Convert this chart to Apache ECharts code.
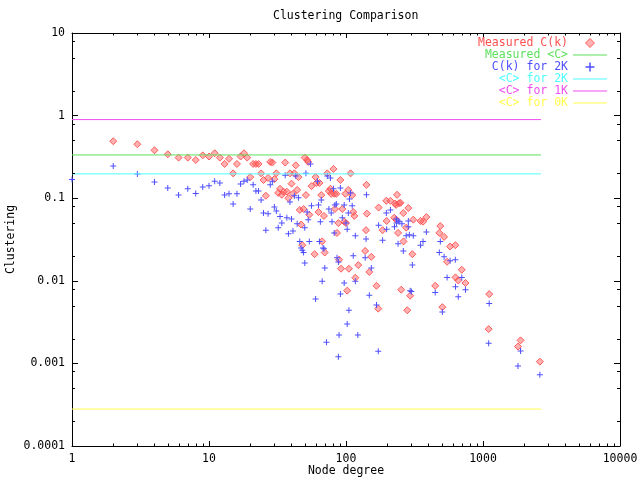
<!DOCTYPE html>
<html>
<head>
<meta charset="utf-8">
<script src="https://cdn.jsdelivr.net/npm/echarts@6/dist/echarts.min.js"></script>
<style>html,body{margin:0;padding:0;background:#fff}#c{width:640px;height:480px}</style>
</head>
<body>
<div id="c"></div>
<script>
// ---- data ----
const measuredCk = [
  [2,0.49],[3,0.45],[4,0.38],[5,0.34],[6,0.31],[7,0.31],[8,0.29],[9,0.33],[10,0.32],[11,0.35],
  [12,0.31],[13,0.26],[14,0.30],[15,0.20],[16,0.26],[17,0.32],[18,0.35],[19,0.31],[20,0.18],
  [21,0.26],[22,0.26],[23,0.26],[24,0.20],[25,0.166],[26,0.107],[27,0.176],[28,0.275],[29,0.27],
  [30,0.17],[31,0.20],[32,0.116],[33,0.13],[34,0.11],[35,0.12],[36,0.27],[37,0.12],[38,0.10],
  [39,0.20],[40,0.15],[41,0.113],[42,0.20],[43,0.25],[44,0.126],[45,0.18],[46,0.072],[47,0.048],
  [48,0.027],[49,0.074],[50,0.31],[51,0.109],[52,0.29],[53,0.275],[54,0.063],[56,0.14],[59,0.021],
  [60,0.18],[61,0.153],[63,0.068],[64,0.153],[66,0.109],[67,0.030],[69,0.061],[70,0.022],[73,0.20],
  [75,0.122],[77,0.13],[78,0.113],[81,0.226],[82,0.113],[83,0.074],[85,0.113],[86,0.038],[88,0.05],
  [89,0.018],[91,0.166],[92,0.014],[94,0.074],[97,0.052],[99,0.113],[100,0.05],[102,0.0076],
  [104,0.126],[105,0.014],[108,0.20],[111,0.109],[113,0.068],[115,0.061],[117,0.0109],[123,0.0155],
  [138,0.023],[140,0.041],[141,0.145],[142,0.065],[148,0.0128],[153,0.0195],[167,0.0087],[172,0.0046],
  [173,0.077],[185,0.041],[197,0.093],[198,0.053],[211,0.093],[225,0.058],[228,0.086],[232,0.083],
  [233,0.055],[236,0.11],[240,0.038],[244,0.087],[250,0.088],[253,0.0078],[262,0.066],[263,0.030],
  [275,0.044],[280,0.0044],[285,0.076],[294,0.0066],[305,0.021],[310,0.055],[350,0.053],[365,0.052],
  [386,0.059],[448,0.0087],[480,0.038],[488,0.046],[505,0.0048],[520,0.034],[547,0.017],[575,0.026],
  [628,0.027],[630,0.011],[660,0.0101],[700,0.0136],[745,0.0094],[1100,0.0026],[1110,0.0069],
  [1800,0.0016],[1880,0.0019],[2600,0.00105]
];
const ck2K = [
  [1,0.168],[2,0.246],[3,0.197],[4,0.157],[5,0.133],[6,0.109],[7,0.13],[8,0.114],[9,0.137],[10,0.141],
  [11,0.16],[12,0.153],[13,0.109],[14,0.113],[15,0.085],[16,0.113],[17,0.149],[18,0.16],[19,0.166],
  [20,0.074],[21,0.145],[22,0.122],[23,0.122],[24,0.095],[25,0.066],[26,0.041],[27,0.065],[28,0.145],
  [29,0.16],[30,0.078],[31,0.07],[32,0.044],[33,0.06],[34,0.05],[36,0.19],[37,0.058],[38,0.037],
  [39,0.09],[40,0.056],[41,0.04],[42,0.107],[43,0.186],[44,0.049],[45,0.101],[46,0.03],[47,0.025],
  [48,0.0235],[49,0.022],[50,0.044],[50,0.0164],[51,0.2],[52,0.068],[53,0.055],[54,0.03],[55,0.26],
  [56,0.081],[60,0.006],[62,0.16],[63,0.083],[64,0.03],[65,0.052],[66,0.095],[67,0.0099],[68,0.025],
  [69,0.0245],[70,0.0143],[72,0.0018],[73,0.186],[75,0.074],[77,0.176],[78,0.066],[79,0.052],[81,0.13],
  [82,0.038],[83,0.083],[85,0.085],[86,0.019],[88,0.0169],[88,0.0012],[89,0.0022],[91,0.133],[91,0.0069],
  [94,0.058],[97,0.083],[97,0.0094],[100,0.05],[102,0.042],[102,0.003],[104,0.066],[105,0.0044],
  [106,0.098],[108,0.116],[111,0.081],[113,0.0201],[117,0.035],[117,0.0099],[122,0.0022],[138,0.019],
  [140,0.032],[141,0.11],[148,0.0067],[153,0.0143],[167,0.0051],[172,0.0014],[173,0.047],[185,0.031],
  [197,0.066],[198,0.042],[211,0.072],[226,0.045],[233,0.056],[234,0.05],[240,0.028],[240,0.053],
  [244,0.052],[256,0.049],[262,0.023],[275,0.035],[285,0.053],[285,0.045],[290,0.036],[294,0.0076],
  [300,0.0074],[305,0.0155],[310,0.035],[350,0.027],[365,0.03],[386,0.039],[448,0.0072],[480,0.022],
  [488,0.03],[505,0.0042],[520,0.0195],[547,0.011],[575,0.0175],[628,0.018],[630,0.0085],[660,0.0064],
  [700,0.011],[745,0.0078],[1100,0.00175],[1110,0.0053],[1800,0.00093],[1880,0.00141],[2600,0.00073]
];
const lineDegrees = [1, 2650];
const measuredC = 0.334;
const c2K = 0.197;
const c1K = 0.895;
const c0K = 0.00028;
const xTickLabels = ['1','10','100','1000','10000'];
const yTickLabels = ['0.0001','0.001','0.01','0.1','1','10'];
const xMinorTicks = [2,3,4,5,6,7,8,9,20,30,40,50,60,70,80,90,200,300,400,500,600,700,800,900,2000,3000,4000,5000,6000,7000,8000,9000];
const yMinorTicks = [0.0002,0.0005,0.0008,0.002,0.005,0.008,0.02,0.05,0.08,0.2,0.5,0.8,2,5,8];
const X_MIN = 1, X_MAX = 10000, Y_MIN = 0.0001, Y_MAX = 10;

const COL = {red:'#ff4f4f', green:'#5fe05f', blue:'#4f4fff', cyan:'#4fffff', magenta:'#ef4fef', yellow:'#ffff4f'};
const FONT = 'DejaVu Sans Mono';
const FS = 11.5;
const LINE_ICON = 'path://M0,0H34V1H0Z';
const DIAMOND_ICON = 'path://M3.5,0L7,3.5L3.5,7L0,3.5Z';
const PLUS_ICON = 'path://M2.5,0H3.5V2.5H6V3.5H3.5V6H2.5V3.5H0V2.5H2.5Z';

const chart = echarts.init(document.getElementById('c'), null, {renderer:'canvas'});

function tickSeries(dim, values, len) {
  return {
    type:'custom', silent:true, z:10, clip:false,
    data: values.map(v => dim === 'x' ? [v, 1] : [1, v]),
    renderItem(params, api) {
      const style = {stroke:'#000', lineWidth:1};
      if (dim === 'x') {
        const v = api.value(0);
        const b = api.coord([v, Y_MIN]), t = api.coord([v, Y_MAX]);
        const x = Math.round(b[0]) + 0.5;
        return {type:'group', children:[
          {type:'line', shape:{x1:x, y1:b[1], x2:x, y2:b[1]-len}, style},
          {type:'line', shape:{x1:x, y1:t[1], x2:x, y2:t[1]+len}, style}
        ]};
      } else {
        const v = api.value(1);
        const l = api.coord([X_MIN, v]), r = api.coord([X_MAX, v]);
        const y = Math.round(l[1]) + 0.5;
        return {type:'group', children:[
          {type:'line', shape:{x1:l[0], y1:y, x2:l[0]+len, y2:y}, style},
          {type:'line', shape:{x1:r[0], y1:y, x2:r[0]-len, y2:y}, style}
        ]};
      }
    }
  };
}

function hline(name, value, color) {
  return {
    name, type:'line', symbol:'none', showSymbol:false, silent:true,
    data: lineDegrees.map(k => [k, value]),
    lineStyle:{color, width:1}, itemStyle:{color}
  };
}

const axisBase = {
  type:'log', logBase:10, axisLine:{show:true, lineStyle:{color:'#000', width:1}},
  splitLine:{show:false}, minorTick:{show:false}
};

const option = {
  animation:false,
  backgroundColor:'#fff',
  title:{text:'Clustering Comparison', left:273, top:10, padding:0,
    textStyle:{fontFamily:FONT, fontSize:FS, fontWeight:'normal', color:'#000'}},
  grid:{left:72, right:20, top:33, bottom:34, containLabel:false, outerBoundsMode:'none'},
  legend:{
    orient:'vertical', align:'right', right:33, top:37, padding:0,
    itemWidth:34, itemHeight:9, itemGap:0, selectedMode:false, symbolKeepAspect:true,
    textStyle:{fontFamily:FONT, fontSize:FS, lineHeight:11},
    data:[
      {name:'Measured C(k)', icon:DIAMOND_ICON, textStyle:{color:COL.red},
        itemStyle:{color:'rgba(255,79,79,0.45)', borderColor:COL.red, borderWidth:0.9}},
      {name:'Measured <C>', icon:LINE_ICON, textStyle:{color:COL.green},
        itemStyle:{color:COL.green, borderWidth:0}},
      {name:'C(k) for 2K', icon:PLUS_ICON, textStyle:{color:COL.blue},
        itemStyle:{color:COL.blue, borderWidth:0}},
      {name:'<C> for 2K', icon:LINE_ICON, textStyle:{color:COL.cyan},
        itemStyle:{color:COL.cyan, borderWidth:0}},
      {name:'<C> for 1K', icon:LINE_ICON, textStyle:{color:COL.magenta},
        itemStyle:{color:COL.magenta, borderWidth:0}},
      {name:'<C> for 0K', icon:LINE_ICON, textStyle:{color:COL.yellow},
        itemStyle:{color:COL.yellow, borderWidth:0}}
    ]
  },
  xAxis:[
    Object.assign({}, axisBase, {
      min:X_MIN, max:X_MAX, position:'bottom',
      axisTick:{show:true, inside:true, length:5, lineStyle:{color:'#000'}},
      axisLabel:{margin:7, fontFamily:FONT, fontSize:FS, color:'#000',
        formatter: v => xTickLabels[Math.round(Math.log10(v))]},
      name:'Node degree', nameLocation:'middle', nameGap:19, nameMoveOverlap:false,
      nameTextStyle:{fontFamily:FONT, fontSize:FS, color:'#000', verticalAlign:'top'}
    }),
    Object.assign({}, axisBase, {
      min:X_MIN, max:X_MAX, position:'top',
      axisTick:{show:true, inside:true, length:5, lineStyle:{color:'#000'}},
      axisLabel:{show:false}
    })
  ],
  yAxis:[
    Object.assign({}, axisBase, {
      min:Y_MIN, max:Y_MAX, position:'left',
      axisTick:{show:true, inside:true, length:6, lineStyle:{color:'#000'}},
      axisLabel:{margin:7, fontFamily:FONT, fontSize:FS, color:'#000',
        formatter: v => yTickLabels[Math.round(Math.log10(v)) + 4]},
      name:'Clustering', nameLocation:'middle', nameGap:55, nameRotate:90, nameMoveOverlap:false,
      nameTextStyle:{fontFamily:FONT, fontSize:FS, color:'#000'}
    }),
    Object.assign({}, axisBase, {
      min:Y_MIN, max:Y_MAX, position:'right',
      axisTick:{show:true, inside:true, length:6, lineStyle:{color:'#000'}},
      axisLabel:{show:false}
    })
  ],
  series:[
    {name:'Measured C(k)', type:'scatter', symbol:'diamond', symbolSize:7, data:measuredCk,
      itemStyle:{color:'rgba(255,79,79,0.45)', borderColor:COL.red, borderWidth:0.9, opacity:1}},
    hline('Measured <C>', measuredC, COL.green),
    {name:'C(k) for 2K', type:'scatter', symbol:PLUS_ICON, symbolSize:6, data:ck2K,
      itemStyle:{color:COL.blue, opacity:1}},
    hline('<C> for 2K', c2K, COL.cyan),
    hline('<C> for 1K', c1K, COL.magenta),
    hline('<C> for 0K', c0K, COL.yellow),
    tickSeries('x', xMinorTicks, 2.5),
    tickSeries('y', yMinorTicks, 3)
  ]
};
chart.setOption(option);
</script>
</body>
</html>
